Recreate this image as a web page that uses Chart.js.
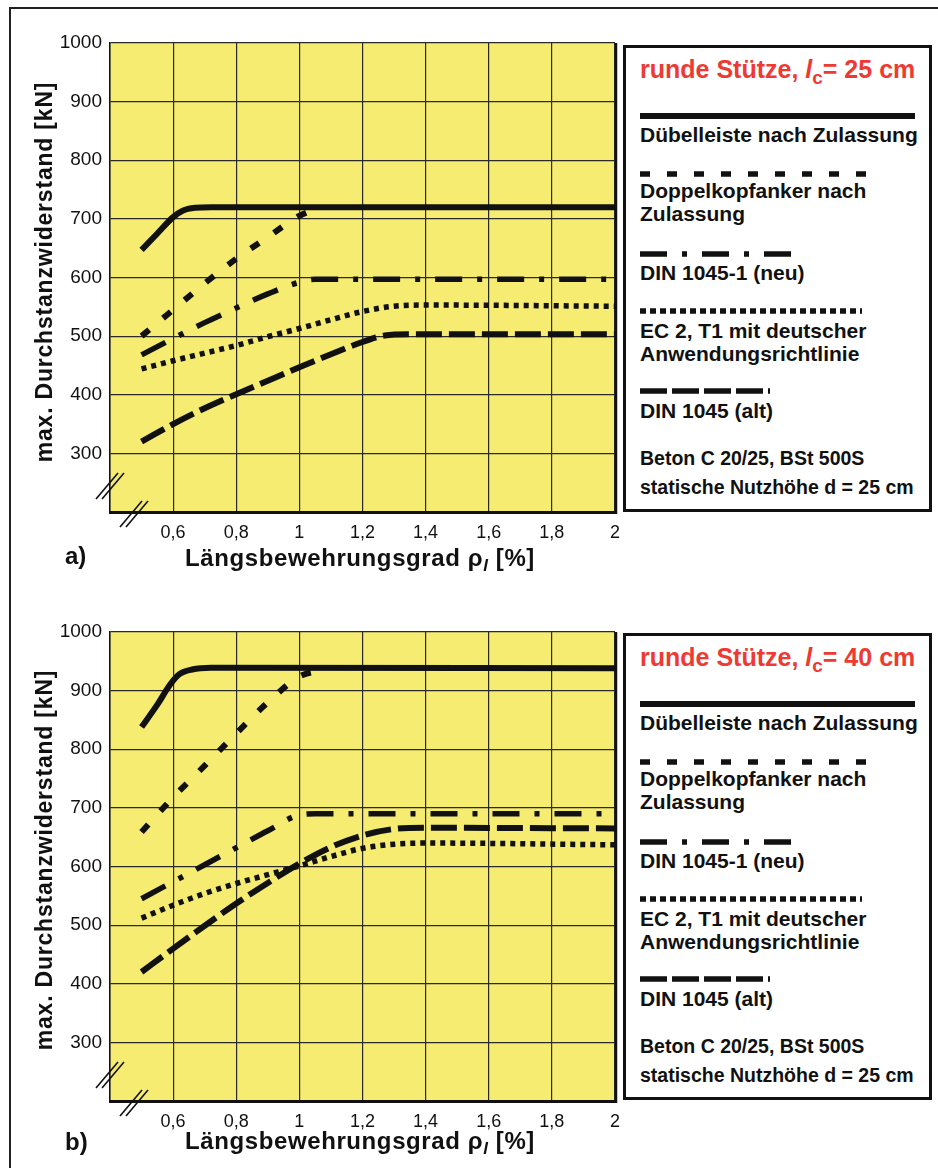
<!DOCTYPE html>
<html>

<head>
    <title>Durchstanzwiderstand</title>
    <script src="https://cdn.jsdelivr.net/npm/chart.js"></script>
    <style>
        body {
            margin: 0;
            width: 938px;
            height: 1168px;
            background: #ffffff;
            position: relative;
            overflow: hidden;
            font-family: 'Liberation Sans', Arial, sans-serif;
            color: #111;
        }

        .frame {
            position: absolute;
            left: 9px;
            top: 7px;
            width: 940px;
            height: 1170px;
            border-left: 2px solid #222;
            border-top: 2px solid #222;
        }

        .wrap {
            position: absolute;
            left: 0;
            width: 630px;
            height: 560px;
        }

        .ytitle {
            position: absolute;
            left: 44px;
            transform: translate(-50%, -50%) rotate(-90deg);
            white-space: nowrap;
            font-weight: bold;
            font-size: 23px;
            letter-spacing: 0.8px;
        }

        .xtitle {
            position: absolute;
            left: 360px;
            transform: translate(-50%, -50%);
            white-space: nowrap;
            font-weight: bold;
            font-size: 24px;
            letter-spacing: 0.6px;
        }

        .xtitle sub {
            font-size: 17px;
            font-style: italic;
        }

        .panel {
            position: absolute;
            left: 65px;
            transform: translateY(-50%);
            font-weight: bold;
            font-size: 24px;
        }

        .legend {
            position: absolute;
            left: 623px;
            width: 309px;
            height: 467px;
            border: 3px solid #111;
            box-sizing: border-box;
            background: #fff;
        }

        .legend div {
            position: absolute;
            left: 14px;
            white-space: nowrap;
            font-weight: bold;
            font-size: 21px;
            line-height: 24px;
            transform: translateY(-50%);
        }

        .legend .head {
            color: #ee3a33;
            font-size: 25px;
            line-height: 30px;
        }

        .legend .head sub {
            font-size: 19px;
        }

        .legend .small {
            font-size: 19.5px;
        }

        .legend svg {
            position: absolute;
            left: 14px;
        }
    </style>
</head>

<body>
    <div class="frame"></div>

    <div class="wrap" style="top:0px"><canvas id="chartA"></canvas></div>
    <div class="wrap" style="top:589px"><canvas id="chartB"></canvas></div>

    <div class="ytitle" style="top:272px">max. Durchstanzwiderstand [kN]</div>
    <div class="ytitle" style="top:860px">max. Durchstanzwiderstand [kN]</div>

    <div class="xtitle" style="top:560px">Längsbewehrungsgrad ρ<sub>l</sub> [%]</div>
    <div class="xtitle" style="top:1143px">Längsbewehrungsgrad ρ<sub>l</sub> [%]</div>

    <div class="panel" style="top:556px">a)</div>
    <div class="panel" style="top:1142px">b)</div>

    <div class="legend" style="top:45px" id="legA"></div>
    <div class="legend" style="top:633px" id="legB"></div>

    <script>
        // x = Längsbewehrungsgrad [%], y = max. Durchstanzwiderstand [kN]
        // a) runde Stütze, lc = 25 cm
        const dubelXA = [0.5, 0.55, 0.6, 0.63, 0.67, 0.72, 2.0];
        const dubelYA = [647, 675, 703, 714, 719, 720, 720];
        const doppelXA = [0.5, 0.6, 0.7, 0.8, 0.9, 1.0, 1.07];
        const doppelYA = [500, 545, 590, 632, 669, 705, 720];
        const dinNeuXA = [0.5, 0.6, 0.7, 0.8, 0.9, 1.0, 1.05, 2.0];
        const dinNeuYA = [468, 496, 523, 548, 572, 592, 597, 597];
        const ec2XA = [0.5, 0.6, 0.7, 0.8, 0.9, 1.0, 1.1, 1.2, 1.3, 1.4, 2.0];
        const ec2YA = [444, 458, 471, 484, 499, 513, 528, 542, 551, 553, 551];
        const dinAltXA = [0.5, 0.6, 0.7, 0.8, 0.9, 1.0, 1.1, 1.2, 1.27, 1.35, 2.0];
        const dinAltYA = [320, 350, 377, 401, 424, 447, 469, 490, 501, 503, 503];

        // b) runde Stütze, lc = 40 cm
        const dubelXB = [0.5, 0.55, 0.59, 0.62, 0.66, 0.72, 2.0];
        const dubelYB = [838, 876, 910, 928, 936, 939, 938];
        const doppelXB = [0.5, 0.6, 0.7, 0.8, 0.9, 1.0, 1.07];
        const doppelYB = [659, 718, 772, 827, 880, 924, 935];
        const dinNeuXB = [0.5, 0.6, 0.7, 0.8, 0.9, 1.0, 1.05, 2.0];
        const dinNeuYB = [545, 574, 603, 632, 661, 688, 690, 690];
        const ec2XB = [0.5, 0.6, 0.7, 0.8, 0.9, 1.0, 1.1, 1.2, 1.3, 1.4, 2.0];
        const ec2YB = [512, 534, 554, 571, 586, 601, 617, 631, 638, 640, 637];
        const dinAltXB = [0.5, 0.6, 0.7, 0.8, 0.9, 1.0, 1.1, 1.2, 1.3, 1.4, 2.0];
        const dinAltYB = [420, 460, 499, 537, 572, 605, 633, 653, 664, 666, 665];

        const seriesNames = ['Dübelleiste nach Zulassung', 'Doppelkopfanker nach Zulassung',
            'DIN 1045-1 (neu)', 'EC 2, T1 mit deutscher Anwendungsrichtlinie', 'DIN 1045 (alt)'];
        const xTicks = [0.6, 0.8, 1.0, 1.2, 1.4, 1.6, 1.8, 2.0];
        const yTicks = [300, 400, 500, 600, 700, 800, 900, 1000];

        const styles = [
            { width: 6, dash: [] },
            { width: 6, dash: [10, 18] },
            { width: 5.5, dash: [27, 15, 5, 15] },
            { width: 5.5, dash: [5, 5] },
            { width: 6, dash: [26, 7] }
        ];

        function pts(xs, ys) {
            return xs.map((x, i) => ({ x: x, y: ys[i] }));
        }

        function fmtX(v) {
            const r = Math.round(v * 10) / 10;
            return String(r).replace('.', ',');
        }

        // yellow plot background, right border and axis break marks
        const plotDeco = {
            id: 'plotDeco',
            beforeDraw(chart) {
                const a = chart.chartArea, c = chart.ctx;
                c.save();
                c.fillStyle = '#f6ec72';
                c.fillRect(a.left, a.top, a.right - a.left, a.bottom - a.top);
                c.restore();
            },
            afterDraw(chart) {
                const a = chart.chartArea, c = chart.ctx;
                c.save();
                c.strokeStyle = '#111';
                c.lineWidth = 2.5;
                c.beginPath();
                c.moveTo(a.right + 1, a.top);
                c.lineTo(a.right + 1, a.bottom + 2);
                c.stroke();
                c.lineWidth = 1.6;
                const marks = [[a.left, a.bottom - 26], [a.left + 24, a.bottom + 2]];
                marks.forEach(m => {
                    [-3, 3].forEach(o => {
                        c.beginPath();
                        c.moveTo(m[0] - 11 + o, m[1] + 13);
                        c.lineTo(m[0] + 11 + o, m[1] - 13);
                        c.stroke();
                    });
                });
                c.restore();
            }
        };

        function makeChart(id, xs, ys) {
            const datasets = xs.map((x, i) => ({
                label: seriesNames[i],
                data: pts(x, ys[i]),
                borderColor: '#111',
                borderWidth: styles[i].width,
                borderDash: styles[i].dash,
                borderCapStyle: 'butt',
                fill: false,
                pointRadius: 0,
                cubicInterpolationMode: 'monotone'
            }));
            return new Chart(document.getElementById(id), {
                type: 'line',
                data: { datasets: datasets },
                options: {
                    responsive: true,
                    maintainAspectRatio: false,
                    animation: false,
                    layout: { padding: { left: 50, top: 43, right: 14, bottom: 8 } },
                    plugins: { legend: { display: false }, tooltip: { enabled: false } },
                    scales: {
                        x: {
                            type: 'linear', min: 0.4, max: 2.0,
                            afterBuildTicks: s => { s.ticks = [0.4].concat(xTicks).map(v => ({ value: v })); },
                            afterFit: s => { s.height = 40; },
                            ticks: {
                                callback: v => (v < 0.5 ? '' : fmtX(v)),
                                color: '#111', padding: 10, maxRotation: 0,
                                font: { family: "'Liberation Sans', Arial, sans-serif", size: 18 }
                            },
                            grid: { color: '#2a2a2a', lineWidth: 1.2, drawTicks: false },
                            border: { color: '#111', width: 3 }
                        },
                        y: {
                            min: 200, max: 1000,
                            afterBuildTicks: s => { s.ticks = [200].concat(yTicks).map(v => ({ value: v })); },
                            afterFit: s => { s.width = 60; },
                            ticks: {
                                callback: v => (v < 300 ? '' : v),
                                color: '#111', padding: 8,
                                font: { family: "'Liberation Sans', Arial, sans-serif", size: 19 }
                            },
                            grid: { color: '#2a2a2a', lineWidth: 1.2, drawTicks: false },
                            border: { color: '#111', width: 1.5 }
                        }
                    }
                },
                plugins: [plotDeco]
            });
        }

        makeChart('chartA',
            [dubelXA, doppelXA, dinNeuXA, ec2XA, dinAltXA],
            [dubelYA, doppelYA, dinNeuYA, ec2YA, dinAltYA]);
        makeChart('chartB',
            [dubelXB, doppelXB, dinNeuXB, ec2XB, dinAltXB],
            [dubelYB, doppelYB, dinNeuYB, ec2YB, dinAltYB]);

        // legend boxes
        const keyLen = [275, 226, 157, 222, 130];
        const keyTop = [71, 129, 209, 266, 346];
        const keyDash = [[], [10, 17], [27, 15, 5, 15], [6, 4], [27, 5]];
        const textRows = [
            [90, 'Dübelleiste nach Zulassung'],
            [146, 'Doppelkopfanker nach'],
            [169, 'Zulassung'],
            [228, 'DIN 1045-1 (neu)'],
            [286, 'EC 2, T1 mit deutscher'],
            [309, 'Anwendungsrichtlinie'],
            [366, 'DIN 1045 (alt)']
        ];

        function buildLegend(id, lc) {
            const box = document.getElementById(id);
            let html = '<div class="head" style="top:25px">runde Stütze, <i>l</i><sub>c</sub>= ' + lc + ' cm</div>';
            keyLen.forEach((len, i) => {
                html += '<svg width="' + (len + 2) + '" height="10" style="top:' + (keyTop[i] - 8) + 'px">' +
                    '<line x1="0" y1="5" x2="' + len + '" y2="5" stroke="#111" stroke-width="' + (i === 0 ? 6 : 5.5) +
                    '" stroke-dasharray="' + (keyDash[i].length ? keyDash[i].join(' ') : 'none') + '"/></svg>';
            });
            textRows.forEach(r => {
                html += '<div style="top:' + (r[0] - 3) + 'px">' + r[1] + '</div>';
            });
            html += '<div class="small" style="top:410px">Beton C 20/25, BSt 500S</div>';
            html += '<div class="small" style="top:439px">statische Nutzhöhe d = 25 cm</div>';
            box.innerHTML = html;
        }

        buildLegend('legA', 25);
        buildLegend('legB', 40);
    </script>
</body>

</html>
